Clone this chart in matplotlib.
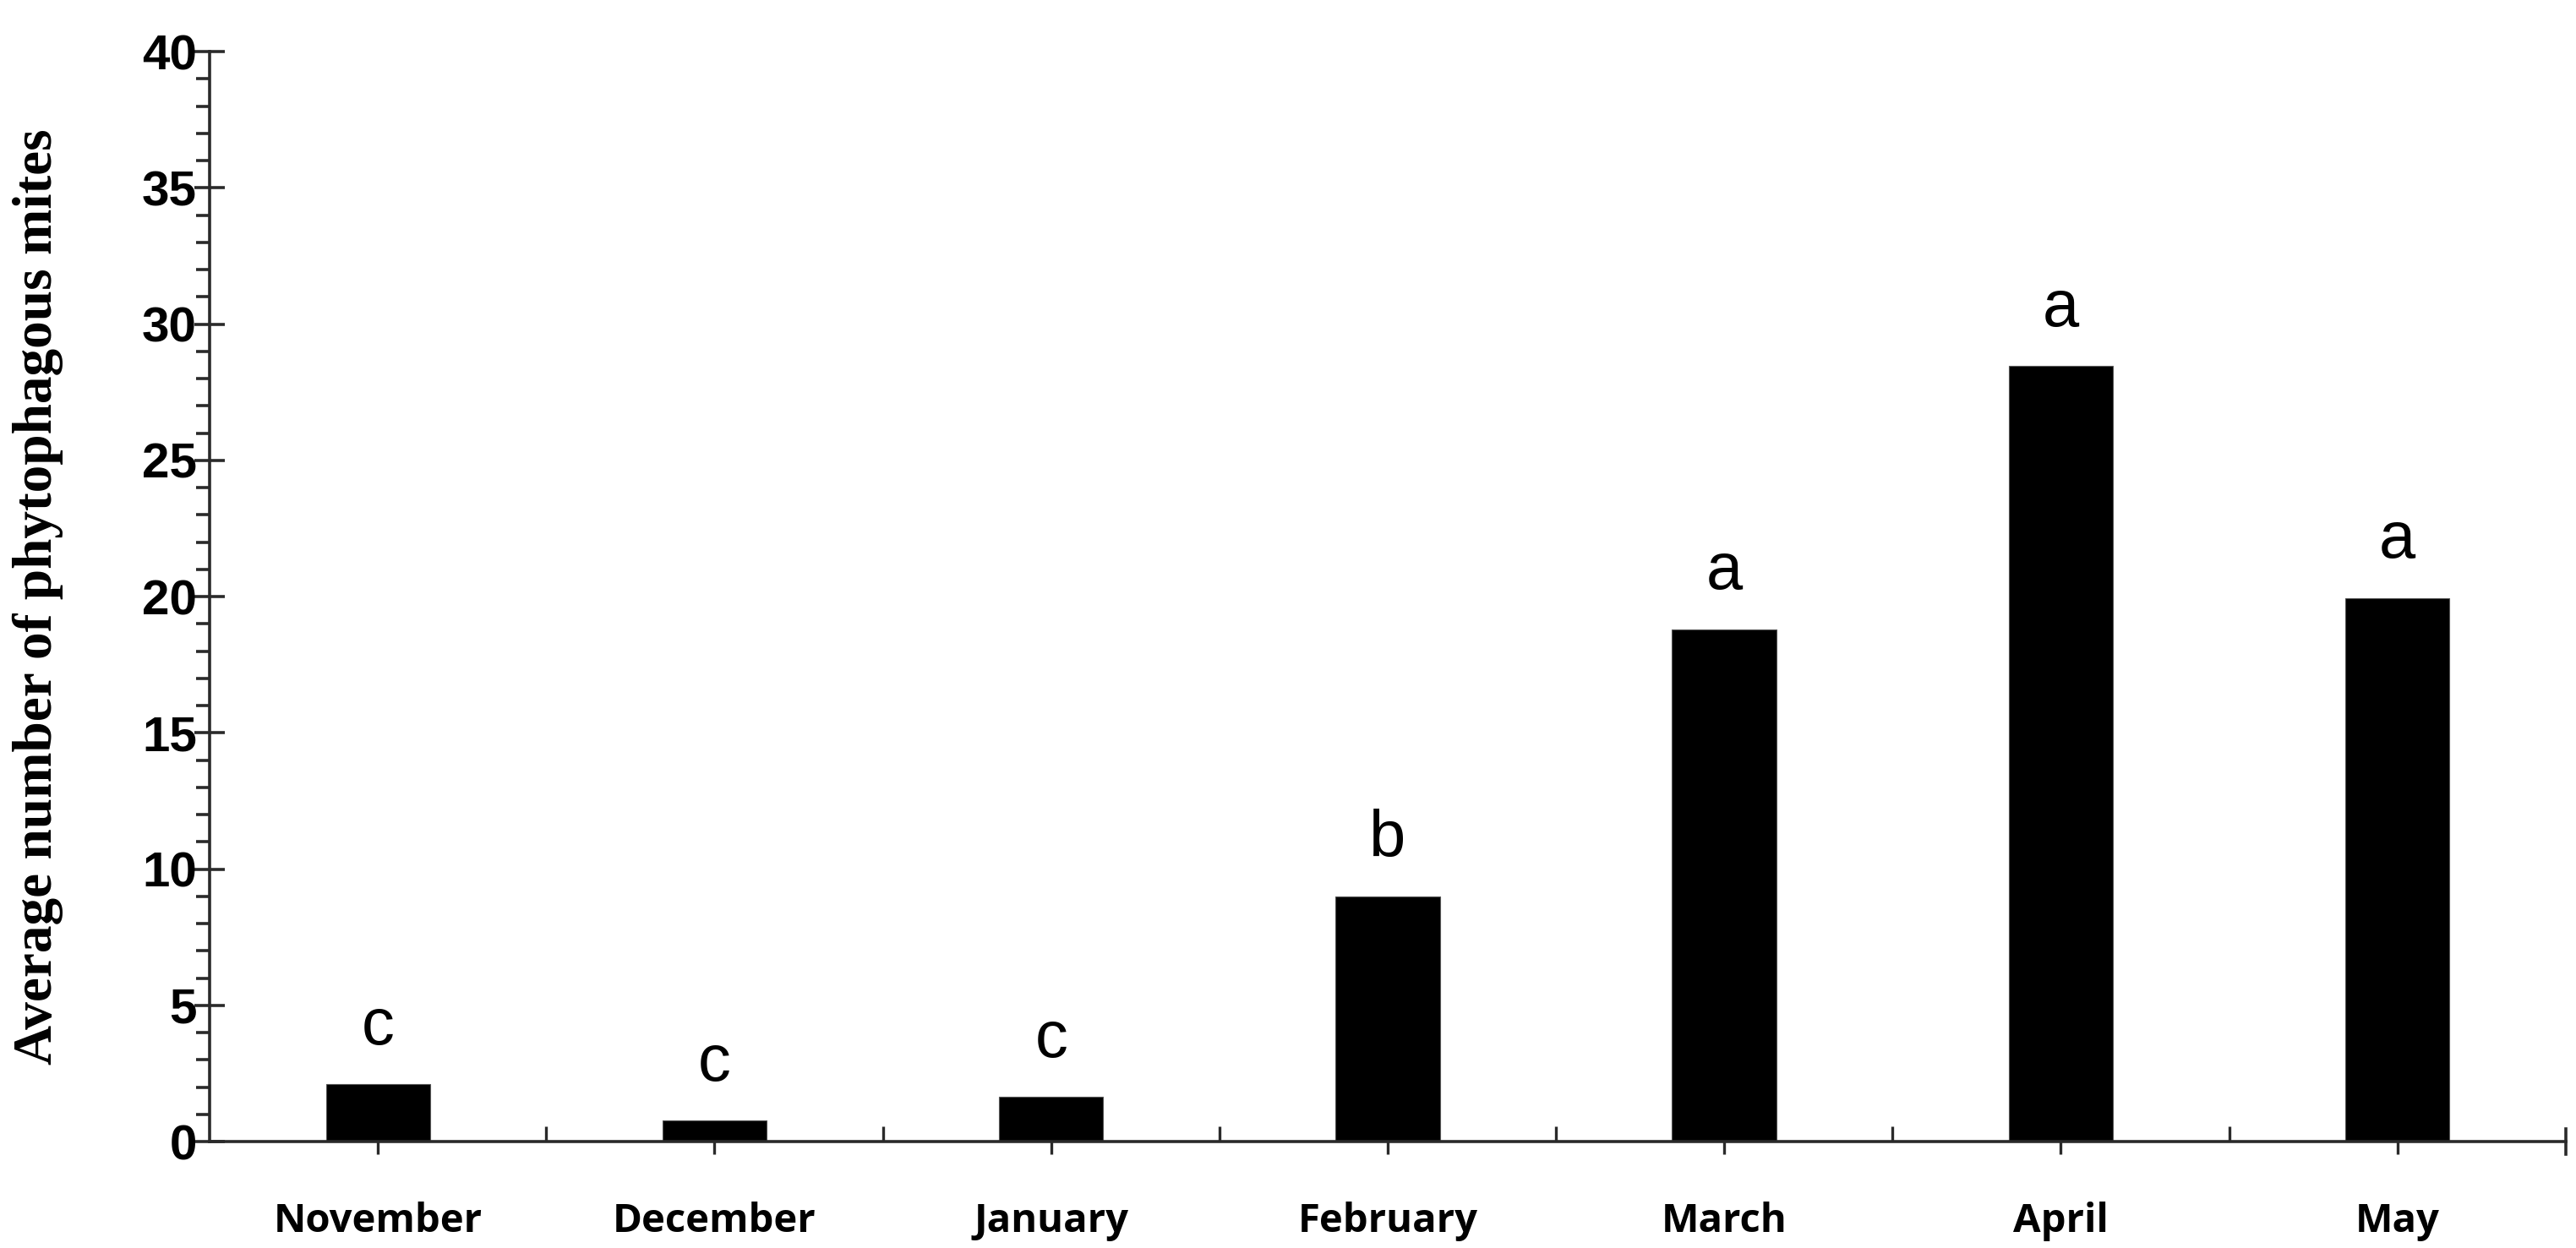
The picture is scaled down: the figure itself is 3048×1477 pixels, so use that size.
import numpy as np
import matplotlib
matplotlib.use("Agg")
import matplotlib.pyplot as plt
from matplotlib.ticker import MultipleLocator, FixedLocator

# Datos
meses = ["November", "December", "January", "February", "March", "April", "May"]
promedio = [2.1, 0.78, 1.65, 9.0, 18.8, 28.45, 19.95]
letras = ["c", "c", "c", "b", "a", "a", "a"]

# Figura
fig = plt.figure(figsize=(30.48, 14.77), dpi=100)
ax = fig.add_axes([0.0814, 0.0853, 0.9146, 0.8734])

x = np.arange(len(meses))
ax.bar(x, promedio, width=0.31, color="black", edgecolor="#555555", linewidth=0.8)

# Letras de significancia
for xi, val, letra in zip(x, promedio, letras):
    ax.annotate(letra, (xi, val), xytext=(0, 34), textcoords="offset points",
                ha="center", va="baseline", fontsize=56,
                family=["Liberation Sans", "DejaVu Sans"])

# Ejes
ax.set_xlim(-0.5, 6.5)
ax.set_ylim(0, 40)
ax.spines["top"].set_visible(False)
ax.spines["right"].set_bounds(-0.47, 0.47)
for s in ["left", "bottom", "right"]:
    ax.spines[s].set_linewidth(2.6)
    ax.spines[s].set_color("#2a2a2a")

ax.yaxis.set_major_locator(MultipleLocator(5))
ax.yaxis.set_minor_locator(MultipleLocator(1))
ax.tick_params(axis="y", which="major", direction="inout", length=26, width=2.6,
               color="#2a2a2a", pad=-2)
ax.tick_params(axis="y", which="minor", direction="out", length=11.5, width=2.6,
               color="#2a2a2a")
ax.set_yticks(np.arange(0, 41, 5))
ax.set_yticklabels([str(v) for v in range(0, 41, 5)], fontsize=42, fontweight="bold",
                   family=["Liberation Sans", "DejaVu Sans"])

ax.set_xticks(x)
ax.set_xticklabels(meses, fontsize=34, fontweight="bold",
                   family=["Liberation Sans Narrow", "Open Sans", "DejaVu Sans"])
ax.xaxis.set_minor_locator(FixedLocator(np.arange(0.5, 6.5, 1)))
ax.tick_params(axis="x", which="major", direction="out", length=11, width=2.4,
               color="#2a2a2a", pad=40)
ax.tick_params(axis="x", which="minor", direction="in", length=13, width=2.4,
               color="#2a2a2a")

ax.set_ylabel("Average number of phytophagous mites", fontsize=47, fontweight="bold",
              family=["Liberation Serif", "DejaVu Serif"])
ax.yaxis.set_label_coords(-0.062, 0.5)

fig.savefig("out.png", dpi=100)
